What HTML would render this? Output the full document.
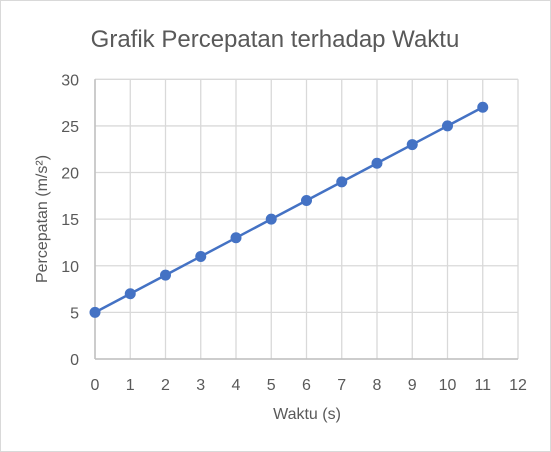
<!DOCTYPE html>
<html><head><meta charset="utf-8"><style>
body{margin:0;background:#fff;}
svg{display:block;font-family:"Liberation Sans",sans-serif;}
</style></head><body>
<svg width="551" height="452" viewBox="0 0 551 452">
<rect x="0.5" y="0.5" width="550" height="451" fill="#fff" stroke="#d9d9d9"/>
<text x="275" y="47" text-anchor="middle" font-size="24" fill="#595959">Grafik Percepatan terhadap Waktu</text>
<g id="grid"></g><g id="axes"></g><g id="series"></g>
<text x="307" y="419" text-anchor="middle" font-size="16" fill="#595959">Waktu (s)</text>
<text transform="translate(47,219) rotate(-90)" text-anchor="middle" font-size="16" fill="#595959">Percepatan (m/s²)</text>
</svg>
<script>
const xValues=[0,1,2,3,4,5,6,7,8,9,10,11];
const yValues=[5,7,9,11,13,15,17,19,21,23,25,27];
const xTicks=[0,1,2,3,4,5,6,7,8,9,10,11,12];
const yTicks=[0,5,10,15,20,25,30];
const X0=95,X1=518,Y0=359,Y1=79.3;
const sx=v=>X0+(X1-X0)*v/12, sy=v=>Y0-(Y0-Y1)*v/30;
const NS="http://www.w3.org/2000/svg";
const g=document.getElementById('grid'),ax=document.getElementById('axes'),se=document.getElementById('series');
function mk(t,a,p){const e=document.createElementNS(NS,t);for(const k in a)e.setAttribute(k,a[k]);p.appendChild(e);return e;}
xTicks.forEach(v=>{
 const l=mk('line',{x1:sx(v),x2:sx(v),y1:Y1,y2:Y0,stroke:'#d9d9d9','stroke-width':1.3},g);
 
 
 const t=mk('text',{x:sx(v),y:390,'text-anchor':'middle','font-size':16,fill:'#595959'},ax);t.textContent=v;
 
 
});
yTicks.forEach(v=>{
 const l=mk('line',{x1:X0,x2:X1,y1:sy(v),y2:sy(v),stroke:'#d9d9d9','stroke-width':1.3},g);
 
 
 const t=mk('text',{x:79,y:sy(v)+6,'text-anchor':'end','font-size':16,fill:'#595959'},ax);t.textContent=v;
 
 
});
const xa=mk('line',{x1:X0,x2:X1,y1:Y0,y2:Y0,stroke:'#bfbfbf','stroke-width':1.5},ax);


const ya=mk('line',{x1:X0,x2:X0,y1:Y1,y2:Y0,stroke:'#bfbfbf','stroke-width':1.5},ax);


const pl=mk('polyline',{points:xValues.map((x,i)=>sx(x)+','+sy(yValues[i])).join(' '),fill:'none',stroke:'#4472c4','stroke-width':2.5},se);


xValues.forEach((x,i)=>{
 const c=mk('circle',{cx:sx(x),cy:sy(yValues[i]),r:5.5,fill:'#4472c4'},se);
 
 
});
</script>
</body></html>
